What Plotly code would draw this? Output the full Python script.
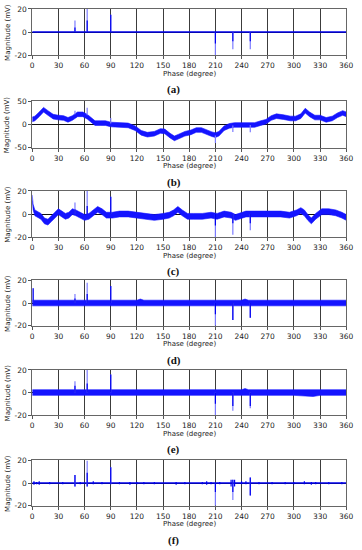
import plotly.graph_objects as go

# ---------------- data ----------------
phase_ticks = [0, 30, 60, 90, 120, 150, 180, 210, 240, 270, 300, 330, 360]
panel_labels = ["(a)", "(b)", "(c)", "(d)", "(e)", "(f)"]
y_ticks_small = [-20, 0, 20]
y_ticks_b = [-50, 0, 50]

# common PD spike phases
spike_phase = [49, 63, 90, 210, 230, 250]

# (a) clean signal: baseline at 0 + spikes
base_a_phase = [0, 360]
base_a_val = [0, 0]
a_light_lo = [0, 0, 0, -20, -15, -15]
a_light_hi = [10, 20, 15, 0, 0, 0]
a_dark_lo = [0, 0, 0, -10, -8, -8]
a_dark_hi = [4, 10, 15, 0, 0, 0]

# (b) large sinusoidal-like interference + noise band
b_phase = [0, 3, 8, 13, 18, 24, 30, 36, 41, 46, 52, 58, 63, 66, 72, 78, 84, 90,
           100, 110, 118, 125, 132, 140, 147, 152, 158, 163, 168, 175, 182, 188,
           194, 200, 206, 210, 214, 220, 226, 232, 240, 248, 255, 262, 268, 274,
           280, 288, 296, 302, 308, 313, 318, 324, 330, 337, 344, 350, 356, 360]
b_center = [11, 13, 22, 32, 25, 17, 15, 14, 10, 14, 22, 22, 17, 12, 3, 3, 3, 0,
            -1, -2, -8, -18, -22, -20, -14, -15, -24, -30, -26, -20, -17, -12,
            -12, -17, -21, -23, -20, -8, -3, -1, -1, 0, -1, 3, 6, 14,
            18, 16, 13, 13, 18, 30, 22, 15, 15, 10, 13, 20, 25, 22]
b_noise = 5
b_light_lo = [22, 20, 2, -40, -16, -17]
b_light_hi = [30, 36, 14, -24, -2, -1]

# (c) mixed noise
c_phase = [0, 1, 3, 6, 10, 14, 18, 22, 26, 30, 34, 38, 42, 46, 50, 55, 60, 65, 70,
           75, 80, 85, 92, 100, 110, 120, 130, 140, 150, 157, 162, 167, 172, 178,
           185, 195, 205, 212, 220, 228, 233, 238, 245, 255, 265, 275, 285, 295,
           303, 308, 312, 316, 320, 325, 332, 340, 348, 355, 360]
c_center = [14, 6, 1, 0, -2, -6, -7, -4, -1, 2, 0, -2, -1, 2, 1, -1, -3, -2, 1,
            4, 2, -1, -1, 0, 0, -1, -2, -3, -2, -1, 1, 4, 1, -2,
            -2, -2, -1, -2, 0, -1, -3, -2, 0, 0, 0, 0, 0, -1,
            1, 3, 1, -3, -6, -2, 2, 2, 1, -1, -3]
c_noise = 2.5
c_light_lo = [0, 0, 0, -20, -18, -14]
c_light_hi = [10, 20, 15, 0, 0, 0]
c_dark_lo = [0, 0, 0, -10, -8, -8]
c_dark_hi = [4, 7, 15, 0, 0, 0]

# (d) white-noise band
d_phase = [0, 30, 60, 90, 120, 124, 128, 150, 180, 210, 240, 244, 248, 270, 300, 330, 360]
d_hi = [2.5, 2.5, 2.5, 2.5, 2.5, 3.5, 2.5, 2.5, 2.5, 2.5, 2.5, 3.5, 2.5, 2.5, 2.5, 2.5, 2.5]
d_lo = [-2.5, -2.5, -2.5, -2.5, -2.5, -2.5, -2.5, -2.5, -2.5, -2.5, -2.5, -2.5, -2.5, -2.5, -2.5, -2.5, -2.5]
d_spike_phase = [1, 49, 63, 90, 210, 230, 250]
d_light_lo = [0, 0, 0, 0, -20, -15, -13]
d_light_hi = [13, 8, 18, 15, 0, 0, 0]
d_dark_lo = [0, 0, 0, 0, -10, -15, -13]
d_dark_hi = [13, 4, 8, 15, 0, 0, 0]

# (e) white-noise band (second)
e_phase = [0, 30, 60, 90, 120, 150, 180, 210, 240, 244, 248, 270, 300, 322, 330, 360]
e_hi = [2.5, 2.5, 2.5, 2.5, 2.5, 2.5, 2.5, 2.5, 2.5, 3.5, 2.5, 2.5, 2.5, 2.5, 2.5, 2.5]
e_lo = [-2.5, -2.5, -2.5, -2.5, -2.5, -2.5, -2.5, -2.5, -2.5, -2.5, -2.5, -2.5, -2.5, -3.5, -2.5, -2.5]
e_light_lo = [0, 0, 0, -20, -16, -14]
e_light_hi = [10, 20, 16, 0, 0, 0]
e_dark_lo = [0, 0, 0, -10, -12, -12]
e_dark_hi = [6, 8, 16, 0, 0, 0]

# (f) de-noised result
f_base_phase = [0, 360]
f_base_val = [0, 0]
f_blip_phase = [2, 5, 8, 20, 35, 55, 70, 80, 100, 112, 120, 128, 140, 165, 175,
                195, 200, 205, 215, 228, 232, 240, 245, 260, 275, 290, 300, 312,
                320, 325, 340, 355]
f_blip_lo = [-1.5, -1, -1.5, -1, -1, -1, -1, -1, -1, -1.5, -1, -1, -1, -1.5, -1,
             -1, -1.5, -1, -1, -3, -3, -1, -1, -1, -1, -1, -1, -1, -1.5, -1, -1, -1]
f_blip_hi = [1.5, 1, 1.5, 1, 1, 1, 1.5, 1, 1, 1, 1, 1, 1, 1, 1,
             1, 1.5, 1, 1, 3, 3, 1.5, 1.5, 1, 1, 1, 1, 1.5, 1, 1, 1, 1]
f_light_lo = [-3, -3, -1, -20, -15, -11]
f_light_hi = [7, 20, 14, 0, 3, 5]
f_dark_lo = [-3, -3, -1, -8, -8, -11]
f_dark_hi = [7, 9, 14, 0, 3, 5]

# ---------------- styling ----------------
BAND = "#1414ff"
DARK = "#0000ee"
LIGHT = "#7c7cff"
GRID = "#3c3c3c"
FONT = "DejaVu Sans"

W, H = 362, 550
panel_px = [(5, 52), (99, 146), (190, 237), (281, 327), (372, 418), (464, 510)]
x_dom = [31 / W, 353 / W]

fig = go.Figure()


def axes_of(k):
    return dict(xaxis="x" if k == 1 else f"x{k}", yaxis="y" if k == 1 else f"y{k}")


def seg(xs, lo, hi):
    X, Y = [], []
    for x, a, b in zip(xs, lo, hi):
        X += [x, x, None]
        Y += [a, b, None]
    return X, Y


def add_spikes(k, xs, llo, lhi, dlo=None, dhi=None):
    X, Y = seg(xs, llo, lhi)
    fig.add_trace(go.Scatter(x=X, y=Y, mode="lines", line=dict(color=LIGHT, width=1.2),
                             hoverinfo="skip", **axes_of(k)))
    if dlo is not None:
        X, Y = seg(xs, dlo, dhi)
        fig.add_trace(go.Scatter(x=X, y=Y, mode="lines", line=dict(color=DARK, width=1.2),
                                 hoverinfo="skip", **axes_of(k)))


def add_band(k, xs, lo, hi):
    fig.add_trace(go.Scatter(x=xs, y=lo, mode="lines", line=dict(color=BAND, width=0.6),
                             hoverinfo="skip", **axes_of(k)))
    fig.add_trace(go.Scatter(x=xs, y=hi, mode="lines", line=dict(color=BAND, width=0.6),
                             fill="tonexty", fillcolor=BAND, hoverinfo="skip", **axes_of(k)))


def add_line(k, xs, ys, width=1.6):
    fig.add_trace(go.Scatter(x=xs, y=ys, mode="lines", line=dict(color=DARK, width=width),
                             hoverinfo="skip", **axes_of(k)))


# (a)
add_line(1, base_a_phase, base_a_val)
add_spikes(1, spike_phase, a_light_lo, a_light_hi, a_dark_lo, a_dark_hi)
# (b)
add_band(2, b_phase, [c - b_noise for c in b_center], [c + b_noise for c in b_center])
add_spikes(2, spike_phase, b_light_lo, b_light_hi)
# (c)
add_band(3, c_phase, [c - c_noise for c in c_center], [c + c_noise for c in c_center])
add_spikes(3, spike_phase, c_light_lo, c_light_hi, c_dark_lo, c_dark_hi)
# (d)
add_band(4, d_phase, d_lo, d_hi)
add_spikes(4, d_spike_phase, d_light_lo, d_light_hi, d_dark_lo, d_dark_hi)
# (e)
add_band(5, e_phase, e_lo, e_hi)
add_spikes(5, spike_phase, e_light_lo, e_light_hi, e_dark_lo, e_dark_hi)
# (f)
add_line(6, f_base_phase, f_base_val, width=1.4)
bx, by = seg(f_blip_phase, f_blip_lo, f_blip_hi)
fig.add_trace(go.Scatter(x=bx, y=by, mode="lines", line=dict(color=DARK, width=1.2),
                         hoverinfo="skip", **axes_of(6)))
add_spikes(6, spike_phase, f_light_lo, f_light_hi, f_dark_lo, f_dark_hi)

layout = dict(
    width=W, height=H, margin=dict(l=0, r=0, t=0, b=0),
    paper_bgcolor="white", plot_bgcolor="white", showlegend=False,
    font=dict(family=FONT, size=7.5, color="#222"),
)
annotations = []
for i, (top, bot) in enumerate(panel_px):
    k = i + 1
    xs = "" if k == 1 else str(k)
    y0, y1 = 1 - bot / H, 1 - top / H
    yt = y_ticks_b if k == 2 else y_ticks_small
    layout["xaxis" + xs] = dict(
        domain=x_dom, range=[0, 360], anchor="y" + xs,
        tickvals=phase_ticks, ticktext=[str(v) for v in phase_ticks],
        showgrid=True, gridcolor=GRID, gridwidth=1, zeroline=False,
        showline=True, mirror=True, linecolor="#666", linewidth=1,
        ticks="outside", ticklen=3, tickcolor="#555", tickfont=dict(size=7.5),
        fixedrange=True,
    )
    layout["yaxis" + xs] = dict(
        domain=[y0, y1], range=[yt[0], yt[-1]], anchor="x" + xs,
        tickvals=yt, ticktext=[str(v) for v in yt],
        showgrid=True, gridcolor="#111", gridwidth=1, zeroline=False,
        showline=True, mirror=True, linecolor="#666", linewidth=1,
        ticks="outside", ticklen=3, tickcolor="#555", tickfont=dict(size=7.5),
        fixedrange=True,
    )
    annotations.append(dict(
        text="Magnitude (mV)", textangle=-90, xref="paper", yref="paper",
        x=6 / W, y=(y0 + y1) / 2, xanchor="center", yanchor="middle",
        showarrow=False, font=dict(family=FONT, size=7, color="#222")))
    annotations.append(dict(
        text="Phase (degree)", xref="paper", yref="paper",
        x=192 / W, y=1 - (bot + 19) / H, xanchor="center", yanchor="middle",
        showarrow=False, font=dict(family=FONT, size=7, color="#222")))
    annotations.append(dict(
        text="<b>" + panel_labels[i] + "</b>", xref="paper", yref="paper",
        x=176 / W, y=1 - (bot + 35) / H, xanchor="center", yanchor="middle",
        showarrow=False, font=dict(family="Liberation Serif", size=11, color="#111")))
layout["annotations"] = annotations
fig.update_layout(**layout)

fig.write_html(
    "out.html",
    config={"displayModeBar": False, "staticPlot": True},
    post_script="document.body.style.margin='0';document.body.style.overflow='hidden';"
                "document.documentElement.style.overflow='hidden';",
)
